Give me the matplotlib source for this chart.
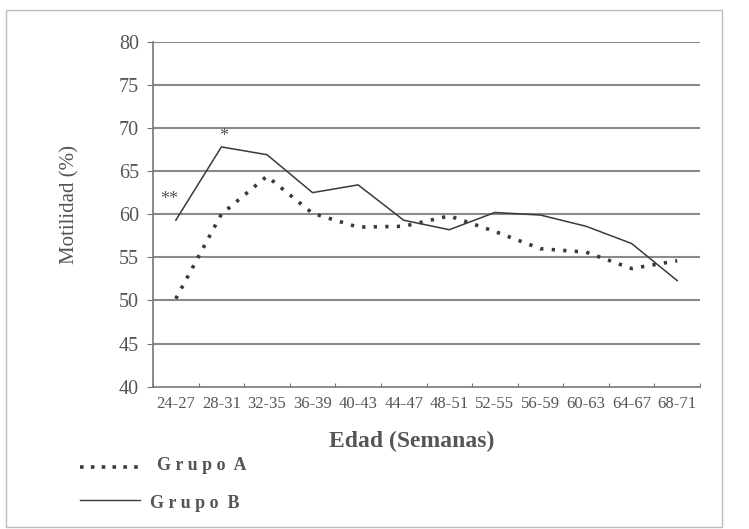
import matplotlib
matplotlib.use("Agg")
import matplotlib.pyplot as plt
from matplotlib.lines import Line2D
from matplotlib.patches import Rectangle

plt.rcParams['font.family'] = ['Liberation Serif', 'DejaVu Serif']

# Age groups (weeks) and sperm motility (%) per group
categories = ["24-27", "28-31", "32-35", "36-39", "40-43", "44-47",
              "48-51", "52-55", "56-59", "60-63", "64-67", "68-71"]
grupo_a = [50.2, 60.0, 64.4, 60.1, 58.5, 58.6, 59.8, 58.0, 56.0, 55.6, 53.7, 54.6]
grupo_b = [59.3, 67.8, 66.9, 62.5, 63.4, 59.3, 58.2, 60.2, 59.9, 58.6, 56.6, 52.3]
y_ticks = [40, 45, 50, 55, 60, 65, 70, 75, 80]

fig = plt.figure(figsize=(7.49, 5.29), dpi=100)
fig.patches.append(Rectangle((6 / 749, 0.003), 716 / 749, 1 - 10 / 529 - 0.003,
                             transform=fig.transFigure, fill=False,
                             edgecolor="#bdbdbd", linewidth=1.0))

ax = fig.add_axes([153 / 749, 1 - 386.7 / 529, (700 - 153) / 749, (386.7 - 41.7) / 529])

x = list(range(len(categories)))
ax.plot(x, grupo_b, color="#3a3a3a", linewidth=1.1, zorder=3)
ax.plot(x, grupo_a, color="#3a3a3a", linewidth=2.6,
        linestyle=(0, (0.9, 2.3)), zorder=3)

ax.set_xlim(-0.5, len(categories) - 0.5)
ax.set_ylim(40, 80)
ax.set_yticks(y_ticks)
ax.set_yticklabels([str(v) for v in y_ticks], fontsize=14.5, color="#555555")
ax.set_xticks([i - 0.5 for i in range(len(categories) + 1)], minor=False)
ax.set_xticklabels([])
ax.set_xticks(x, minor=True)
ax.set_xticklabels(categories, minor=True, fontsize=12, color="#555555")
ax.tick_params(axis="x", which="major", direction="in", length=3, color="#777777")
ax.tick_params(axis="x", which="minor", length=0, pad=7)
ax.tick_params(axis="y", direction="out", length=4, color="#777777", pad=6)

for v in y_ticks[1:]:
    ax.axhline(v, color="#8a8a8a", linewidth=1.5, zorder=1)

for side in ("top", "right"):
    ax.spines[side].set_visible(False)
for side in ("left", "bottom"):
    ax.spines[side].set_color("#777777")
    ax.spines[side].set_linewidth(1.2)

ax.text(-0.15, 60.7, "**", fontsize=13, color="#555555", ha="center", va="bottom")
ax.text(1.05, 68.0, "*", fontsize=13, color="#555555", ha="center", va="bottom")

fig.text(70 / 749, 1 - 205 / 529, "Motilidad (%)", rotation=90, fontsize=15,
         color="#555555", ha="center", va="center")
fig.text(412 / 749, 1 - 441 / 529, "Edad (Semanas)", fontsize=17, fontweight="bold",
         color="#555555", ha="center", va="center")

# Legend drawn by hand beneath the axis title
fig.lines.append(Line2D([80 / 749, 139 / 749], [1 - 467 / 529] * 2,
                        transform=fig.transFigure, color="#3a3a3a",
                        linewidth=2.6, linestyle=(0, (1.0, 2.0))))
fig.text(157 / 749, 1 - 466 / 529, "G r u p o  A", fontsize=13, fontweight="bold",
         color="#555555", ha="left", va="center")
fig.lines.append(Line2D([80 / 749, 140 / 749], [1 - 500 / 529] * 2,
                        transform=fig.transFigure, color="#3a3a3a", linewidth=1.0))
fig.text(150 / 749, 1 - 504 / 529, "G r u p o  B", fontsize=13, fontweight="bold",
         color="#555555", ha="left", va="center")

fig.savefig("out.png", dpi=100)
